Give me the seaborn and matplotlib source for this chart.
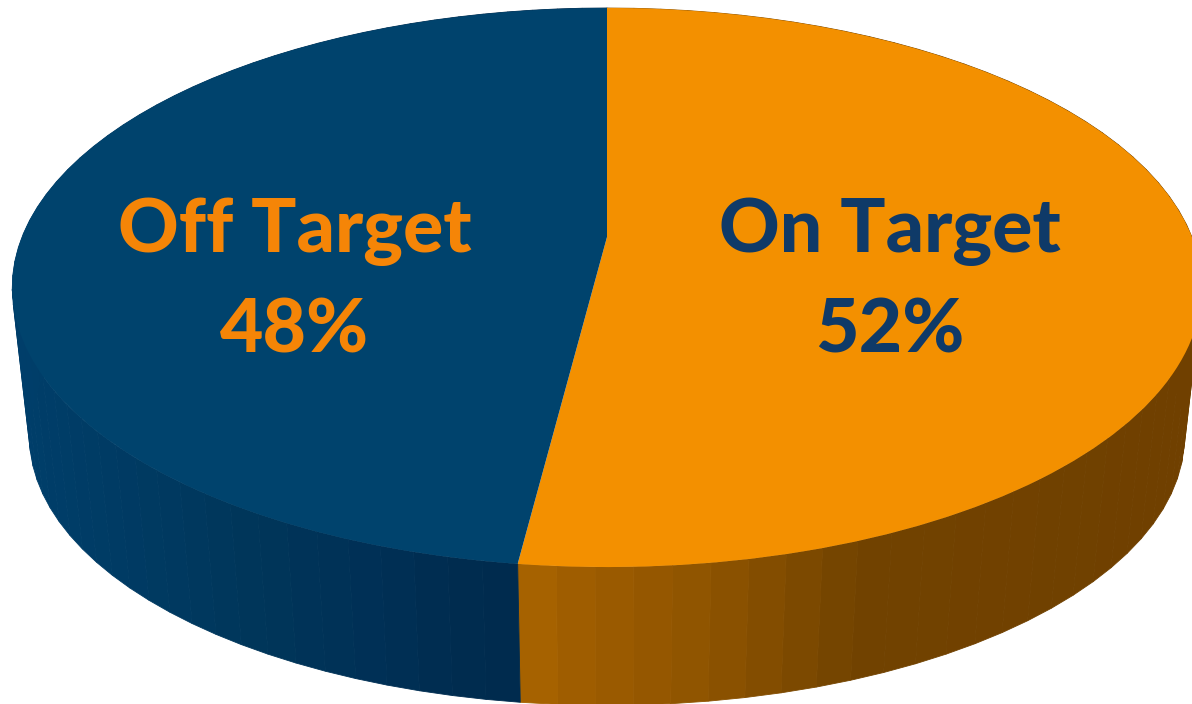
import numpy as np
import matplotlib
matplotlib.use("Agg")
import matplotlib.pyplot as plt
from matplotlib.transforms import Transform
import seaborn as sns

# Chart values
labels = ["On Target", "Off Target"]
shares = [52, 48]

# Colours
top_colors = ["#f39000", "#00436d"]
label_colors = ["#0f3a68", "#f58507"]
blue_wall_x = [0, 90, 270, 370, 445, 520]
blue_wall_shades = ["#003f6b", "#003c66", "#003559", "#003056", "#002d50", "#002a4d"]
orange_wall_x = [520, 570, 640, 700, 790, 860, 1192]
orange_wall_shades = ["#a96500", "#a05e00", "#965800", "#8f5400", "#7e4a00", "#714200", "#704000"]

sns.set_theme(style="white")
plt.rcParams["font.family"] = ["Lato", "DejaVu Sans"]


class TiltedDisc(Transform):
    """Projects the unit circle onto a receding disc, in pixel-like axes units."""
    input_dims = output_dims = 2
    is_separable = False
    has_inverse = False

    def __init__(self, cx, cy, radius, height, tilt):
        super().__init__()
        self.cx, self.cy = cx, cy
        self.radius, self.height, self.tilt = radius, height, tilt

    def transform_non_affine(self, values):
        values = np.asarray(values, dtype=float)
        u, v = values[:, 0], values[:, 1]
        scale = 1.0 / (1.0 + self.tilt * v)
        return np.column_stack([self.cx + self.radius * u * scale,
                                self.cy - self.height * v * scale])


top_disc = TiltedDisc(607, 237, 585, 270.4, 0.1807)
base_disc = TiltedDisc(607, 388, 568, 260, 0.1807)

fig = plt.figure(figsize=(11.92, 7.04), dpi=100)
ax = fig.add_axes([0, 0, 1, 1])

# Wedge boundaries, clockwise from twelve o'clock
edges = 90 - 360 * np.cumsum([0] + shares) / np.sum(shares)


def wall_colour(x, index):
    stops_x = orange_wall_x if index == 0 else blue_wall_x
    stops = orange_wall_shades if index == 0 else blue_wall_shades
    rgb = np.array(sns.color_palette(stops))
    return [np.interp(x, stops_x, rgb[:, c]) for c in range(3)]


# Side wall: narrow facets between the two rims, rear ones first
for i in range(len(shares)):
    angles = np.radians(np.linspace(edges[i], edges[i + 1], 61))
    unit = np.column_stack([np.cos(angles), np.sin(angles)])
    upper = top_disc.transform_non_affine(unit)
    lower = base_disc.transform_non_affine(unit)
    for j in range(len(angles) - 1):
        outline = np.vstack([upper[j:j + 2], lower[j:j + 2][::-1]])
        colour = wall_colour(outline[:, 0].mean(), i)
        ax.fill(outline[:, 0], outline[:, 1], color=colour, lw=0.6, zorder=1)

# Top face
wedges, _ = ax.pie(shares, startangle=90, counterclock=False,
                   colors=top_colors, wedgeprops={"linewidth": 0})
for wedge in wedges:
    wedge.set_transform(top_disc + ax.transData)
    wedge.set_zorder(2)

ax.set_aspect("auto")
ax.set_xlim(0, 1192)
ax.set_ylim(704, 0)
ax.axis("off")

# Slice captions
label_x = [890, 295]
for name, share, colour, x in zip(labels, shares, label_colors, label_x):
    ax.text(x, 231, name, ha="center", va="center", fontsize=54,
            fontweight=900, color=colour, zorder=3)
    ax.text(x, 331, f"{share}%", ha="center", va="center", fontsize=54,
            fontweight=900, color=colour, zorder=3)

fig.savefig("out.png", dpi=100, facecolor="white")
